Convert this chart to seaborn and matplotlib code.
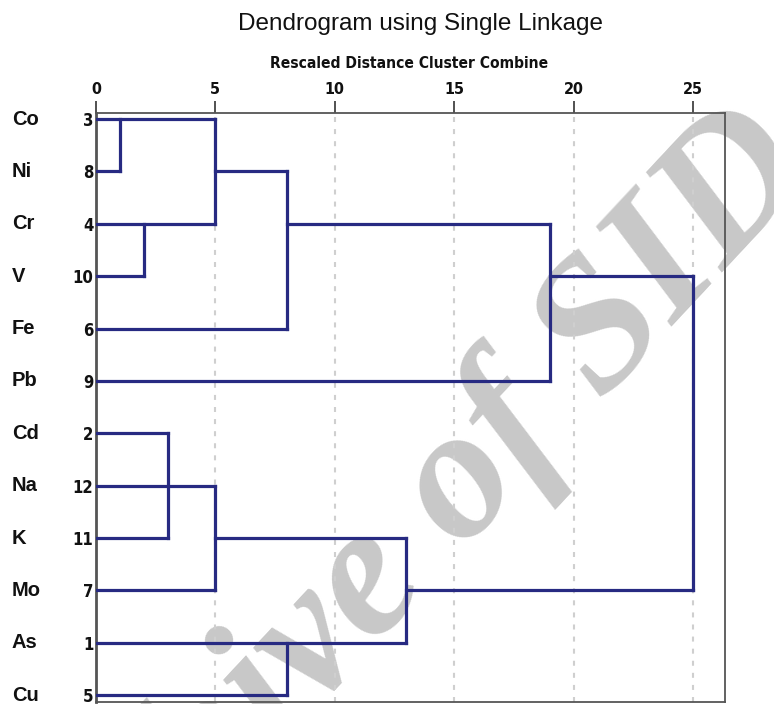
import matplotlib
matplotlib.use("Agg")
import matplotlib.pyplot as plt
import matplotlib.transforms as mtransforms
from matplotlib import font_manager
import numpy as np
import pandas as pd
import seaborn as sns

# ---------------- data ----------------
leaf_labels = ["Co", "Ni", "Cr", "V", "Fe", "Pb", "Cd", "Na", "K", "Mo", "As", "Cu"]
case_ids = ["3", "8", "4", "10", "6", "9", "2", "12", "11", "7", "1", "5"]
x_ticks = [0, 5, 10, 15, 20, 25]

# horizontal links: row index, start distance, end distance
h_rows = [0, 1, 1, 2, 2, 3, 3, 4, 5, 6, 7, 8, 8, 9, 9, 10, 11]
h_start = [0, 0, 5, 0, 8, 0, 19, 0, 0, 0, 0, 0, 5, 0, 13, 0, 0]
h_end = [5, 1, 8, 5, 19, 2, 25, 8, 19, 3, 5, 3, 13, 5, 25, 13, 8]

# vertical links: distance, first row, last row
v_x = [1, 2, 5, 8, 19, 25, 3, 5, 13, 8]
v_top = [0, 2, 0, 1, 2, 3, 6, 7, 8, 10]
v_bottom = [1, 3, 2, 4, 5, 9, 8, 9, 10, 11]

title = "Dendrogram using Single Linkage"
subtitle = "Rescaled Distance Cluster Combine"
watermark = "Archive of SID"

# ---------------- styling ----------------
sns.set_theme(style="white")
plt.rcParams["font.family"] = ["Liberation Sans", "DejaVu Sans"]

avail = {f.name for f in font_manager.fontManager.ttflist}
narrow = "Liberation Sans Narrow" if "Liberation Sans Narrow" in avail else "DejaVu Sans"
narrow_kw = dict(fontfamily=narrow, fontweight="bold")
if narrow == "DejaVu Sans":
    narrow_kw["fontstretch"] = "condensed"

navy = "#272a82"

W, H = 774, 704
fig = plt.figure(figsize=(W / 100, H / 100), dpi=100)
ax = fig.add_axes([96 / W, 2 / H, (725 - 96) / W, (702 - 113) / H])

# build segment table
rows = []
seg = 0
for r, a, b in zip(h_rows, h_start, h_end):
    rows.append((seg, a, r))
    rows.append((seg, b, r))
    seg += 1
for x, t, b in zip(v_x, v_top, v_bottom):
    rows.append((seg, x, t))
    rows.append((seg, x, b))
    seg += 1
df = pd.DataFrame(rows, columns=["seg", "dist", "row"])

sns.lineplot(data=df, x="dist", y="row", units="seg", estimator=None, sort=False,
             color=navy, lw=2.3, solid_capstyle="projecting", ax=ax, zorder=3,
             legend=False)

# grid
for t in x_ticks[1:]:
    ax.axvline(t, color="#cfcfcf", lw=1.5, ls=(0, (2.4, 3.4)), zorder=1)

ax.set_xlim(0, 26.34)
ax.set_ylim(11.13, -0.115)
ax.set_xlabel("")
ax.set_ylabel("")

ax.xaxis.tick_top()
ax.set_xticks(x_ticks)
ax.set_xticklabels([str(t) for t in x_ticks], fontsize=11.5, color="#111111", **narrow_kw)
ax.tick_params(axis="x", direction="out", length=8.5, width=1.2, color="#333333", pad=3, top=True, bottom=False)

ax.set_yticks(range(len(case_ids)))
ax.set_yticklabels(case_ids, fontsize=12, color="#111111", **narrow_kw)
ax.tick_params(axis="y", length=0, pad=2, left=True)

for s in ["top", "right", "bottom"]:
    ax.spines[s].set_color("#555555")
    ax.spines[s].set_linewidth(1.3)
    ax.spines[s].set_visible(True)
ax.spines["left"].set_color("#555555")
ax.spines["left"].set_linewidth(2.0)
ax.spines["left"].set_visible(True)

# element labels on the left
trans = mtransforms.blended_transform_factory(fig.transFigure, ax.transData)
for i, lab in enumerate(leaf_labels):
    ax.text(12 / W, i, lab, transform=trans, ha="left", va="center",
            fontsize=14.5, fontweight="bold", color="#111111", clip_on=False)

fig.text(420 / W, 1 - 24 / H, title, ha="center", va="center", fontsize=17.5, color="#111111")
fig.text(409 / W, 1 - 63 / H, subtitle, ha="center", va="center", fontsize=11.2,
         color="#111111", **narrow_kw)

# watermark
ax.text(0.498, 0.182, watermark, transform=fig.transFigure, ha="center", va="center",
        rotation=47, rotation_mode="anchor", fontsize=136, fontfamily="Liberation Serif",
        fontweight="bold", fontstyle="italic", color="#c8c8c8", zorder=0.5, clip_on=False)

fig.savefig("out.png", dpi=100)
